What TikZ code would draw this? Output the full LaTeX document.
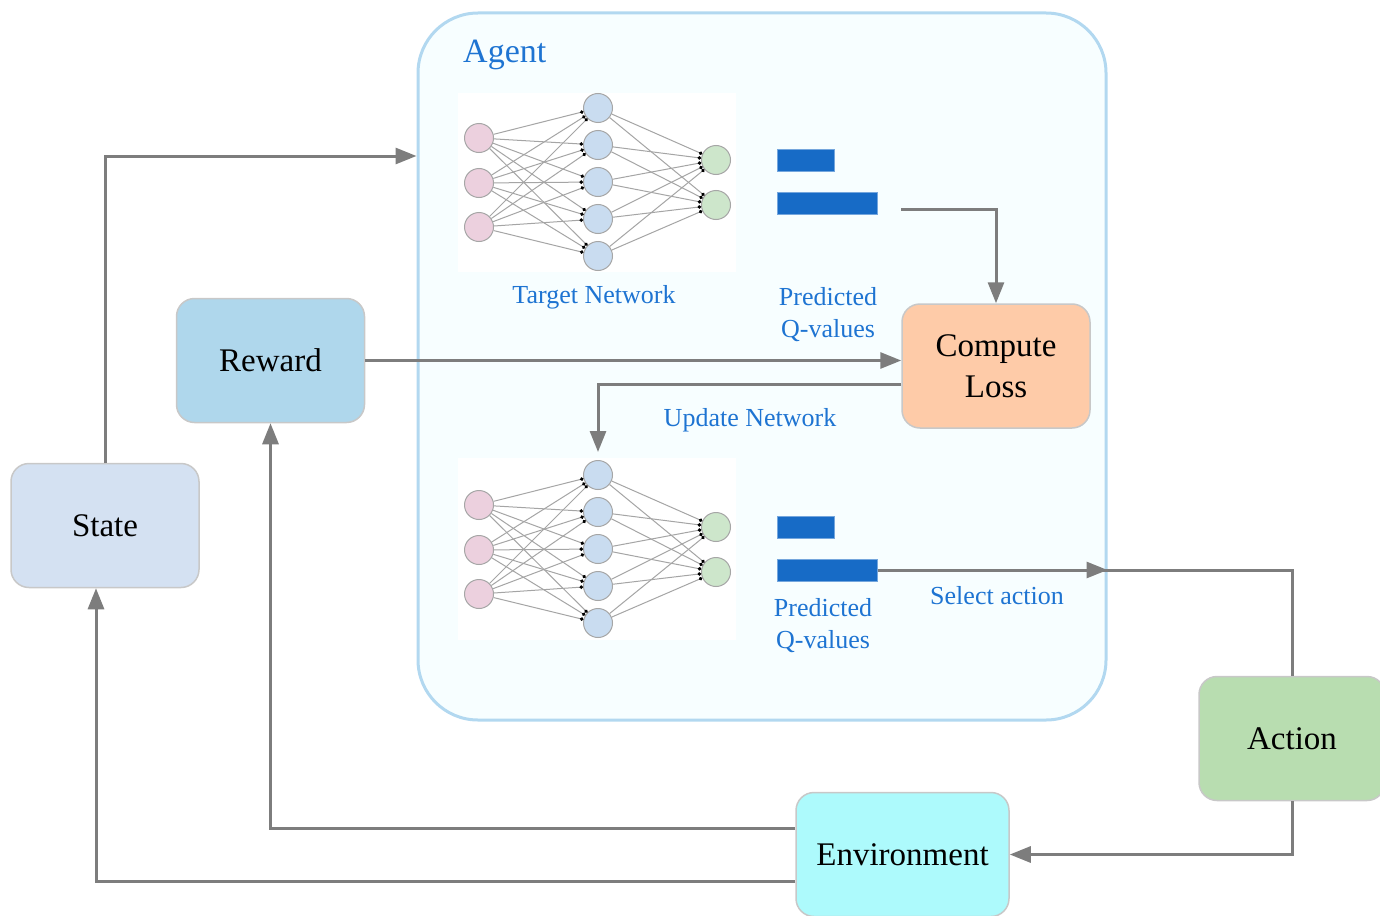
\documentclass[tikz,border=0pt]{standalone}
\usepackage{fontspec}
\setmainfont{Liberation Serif}
\usetikzlibrary{arrows.meta,calc}

\definecolor{agentfill}{RGB}{247,254,255}
\definecolor{agentline}{RGB}{178,216,240}
\definecolor{labelblue}{RGB}{30,116,210}
\definecolor{barblue}{RGB}{23,107,198}
\definecolor{conngray}{RGB}{125,125,125}
\definecolor{edgegray}{RGB}{165,165,165}
\definecolor{boxline}{RGB}{200,200,200}
\definecolor{rewardfill}{RGB}{175,215,236}
\definecolor{statefill}{RGB}{212,225,242}
\definecolor{lossfill}{RGB}{254,203,168}
\definecolor{actionfill}{RGB}{184,221,176}
\definecolor{envfill}{RGB}{173,250,252}
\definecolor{inpink}{RGB}{236,208,222}
\definecolor{hidblue}{RGB}{201,220,240}
\definecolor{outgreen}{RGB}{205,230,203}

\begin{document}
\begin{tikzpicture}[x=1pt,y=-1pt,
  box/.style={draw=boxline, line width=1.5pt, rounded corners=18pt,
    minimum width=188pt, minimum height=124pt, inner sep=0pt, align=center,
    font=\fontsize{33}{41}\selectfont},
  lbl/.style={text=labelblue, align=center, inner sep=0pt,
    font=\fontsize{26}{32}\selectfont},
  conn/.style={draw=conngray, line width=3pt,
    -{Triangle[length=21pt,width=16pt]}},
  plain/.style={draw=conngray, line width=3pt},
  neuron/.style={circle, draw=gray!70, line width=1pt, minimum size=29pt, inner sep=0pt},
  edge/.style={draw=edgegray, line width=1pt, -{Circle[length=3.5pt,black]}},
  bar/.style={draw=barblue!60, fill=barblue, line width=1pt, minimum height=22pt, inner sep=0pt}
]
\useasboundingbox (0,0) rectangle (1380,915);

% agent container
\node[draw=agentline, fill=agentfill, line width=3pt, rounded corners=60pt,
      minimum width=688pt, minimum height=707pt, inner sep=0pt] (agent) at (762,366.5) {};
\node[anchor=west, text=labelblue, inner sep=0pt, font=\fontsize{34}{40}\selectfont]
  (agenttitle) at (463,55) {Agent};

% network panels
\fill[white] (458,93) rectangle (736,272);
\fill[white] (458,458) rectangle (736,640);

\foreach \p/\yo in {t/0,b/367}{
  \foreach \y [count=\i] in {138,183,227}
    \node[neuron, fill=inpink] (\p-i\i) at (479,{\y+\yo}) {};
  \foreach \y [count=\i] in {108,145,182,219,256}
    \node[neuron, fill=hidblue] (\p-h\i) at (598,{\y+\yo}) {};
  \foreach \y [count=\i] in {160,205}
    \node[neuron, fill=outgreen] (\p-o\i) at (716,{\y+\yo}) {};
  \foreach \i in {1,2,3}
    \foreach \j in {1,...,5}
      \draw[edge] (\p-i\i) -- (\p-h\j);
  \foreach \j in {1,...,5}
    \foreach \k in {1,2}
      \draw[edge] (\p-h\j) -- (\p-o\k);
}

\node[lbl] (tnlabel) at (594,297) {Target Network};

% Q-value bars
\node[bar, minimum width=57pt] (tq1) at (805.5,160) {};
\node[bar, minimum width=100pt] (tq2) at (827,203) {};
\node[bar, minimum width=57pt] (bq1) at (805.5,527) {};
\node[bar, minimum width=100pt] (bq2) at (827,570) {};
\node[lbl] (tqlabel) at (828,315) {Predicted\\Q-values};
\node[lbl] (bqlabel) at (823,626) {Predicted\\Q-values};

% boxes
\node[box, fill=lossfill] (loss) at (996,366) {Compute\\Loss};
\node[box, fill=rewardfill] (reward) at (270.5,360.5) {Reward};
\node[box, fill=statefill] (state) at (105,525.5) {State};
\node[box, fill=actionfill, minimum width=186pt] (action) at (1292,738.5) {Action};
\node[box, fill=envfill, minimum width=213pt] (env) at (902.5,854.5) {Environment};

\node[lbl] (updlabel) at (750,420) {Update Network};
\node[lbl] (sellabel) at (997,596) {Select action};

% connectors
\coordinate (s1) at (0,156);
\draw[conn] (state.north) |- (agent.west |- s1);
\coordinate (qt) at (901,209);
\draw[conn] (qt) -| (loss.north);
\draw[conn] (reward.east) -- (reward.east -| loss.west);
\coordinate (nettop) at (598,452);
\draw[conn] ([yshift=-18pt]loss.west) -| (nettop);
\draw[plain] (bq2.east) -| (action.north);
\draw[conn] (bq2.east) -- (agent.east |- bq2.east);
\draw[conn] (action.south) |- (env.east);
\draw[conn] ([yshift=26pt]env.west) -| (reward.south);
\draw[conn] ([yshift=-27pt]env.west) -| ([xshift=-9pt]state.south);
\end{tikzpicture}
\end{document}
